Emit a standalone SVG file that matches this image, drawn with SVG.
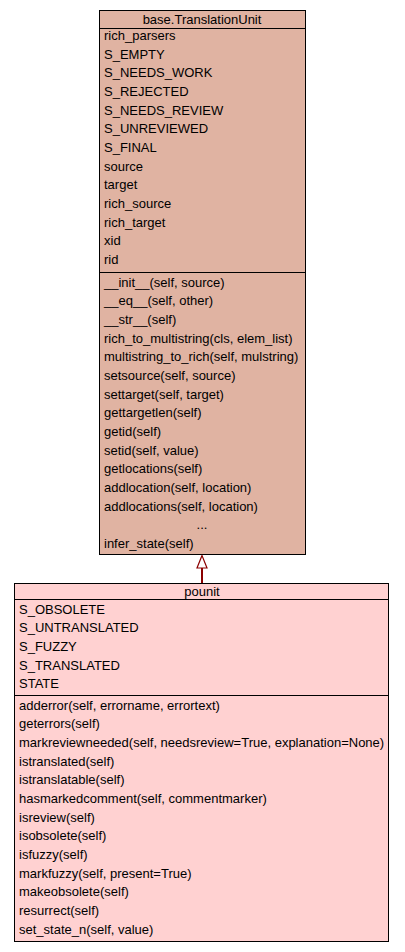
<svg xmlns="http://www.w3.org/2000/svg" width="405" height="952" viewBox="0 0 405 952">
<style>
text{font-family:"Liberation Sans",Arial,sans-serif;font-size:13px;fill:#000}
.c{text-anchor:middle}
.box{stroke:#000;stroke-width:1}
.base{fill:#e0b3a2}
.po{fill:#ffd1d1}
.ln{stroke:#000;stroke-width:1}
</style>
<rect width="405" height="952" fill="#fff"/>
<g id="connectors">
<line x1="202" y1="583" x2="202" y2="568" stroke="#8b0000" stroke-width="2"/>
<polygon points="202,555.5 197,568 207,568" fill="#fff" stroke="#8b0000" stroke-width="1.2"/>
</g>
<g id="base.TranslationUnit">
<rect class="box base" x="99.5" y="10.5" width="206" height="544"/>
<line class="ln" x1="99.5" y1="28.5" x2="305.5" y2="28.5"/>
<line class="ln" x1="99.5" y1="272.5" x2="305.5" y2="272.5"/>
<text class="c" x="202" y="23.5">base.TranslationUnit</text>
<text x="104" y="40">rich_parsers</text>
<text x="104" y="58.7">S_EMPTY</text>
<text x="104" y="77.3">S_NEEDS_WORK</text>
<text x="104" y="96">S_REJECTED</text>
<text x="104" y="114.7">S_NEEDS_REVIEW</text>
<text x="104" y="133.3">S_UNREVIEWED</text>
<text x="104" y="152">S_FINAL</text>
<text x="104" y="170.7">source</text>
<text x="104" y="189.3">target</text>
<text x="104" y="208">rich_source</text>
<text x="104" y="226.7">rich_target</text>
<text x="104" y="245.3">xid</text>
<text x="104" y="264">rid</text>
<text x="104" y="286.5">__init__(self, source)</text>
<text x="104" y="305.2">__eq__(self, other)</text>
<text x="104" y="323.8">__str__(self)</text>
<text x="104" y="342.5">rich_to_multistring(cls, elem_list)</text>
<text x="104" y="361.2">multistring_to_rich(self, mulstring)</text>
<text x="104" y="379.8">setsource(self, source)</text>
<text x="104" y="398.5">settarget(self, target)</text>
<text x="104" y="417.2">gettargetlen(self)</text>
<text x="104" y="435.8">getid(self)</text>
<text x="104" y="454.5">setid(self, value)</text>
<text x="104" y="473.2">getlocations(self)</text>
<text x="104" y="491.8">addlocation(self, location)</text>
<text x="104" y="510.5">addlocations(self, location)</text>
<text class="c" x="202" y="529.2">...</text>
<text x="104" y="547.8">infer_state(self)</text>
</g>
<g id="pounit">
<rect class="box po" x="14.5" y="583.5" width="374" height="358"/>
<line class="ln" x1="14.5" y1="599.5" x2="388.5" y2="599.5"/>
<line class="ln" x1="14.5" y1="695.5" x2="388.5" y2="695.5"/>
<text class="c" x="202" y="595.5">pounit</text>
<text x="19" y="613.5">S_OBSOLETE</text>
<text x="19" y="632.2">S_UNTRANSLATED</text>
<text x="19" y="650.8">S_FUZZY</text>
<text x="19" y="669.5">S_TRANSLATED</text>
<text x="19" y="688.2">STATE</text>
<text x="19" y="709.5">adderror(self, errorname, errortext)</text>
<text x="19" y="728.2">geterrors(self)</text>
<text x="19" y="746.8">markreviewneeded(self, needsreview=True, explanation=None)</text>
<text x="19" y="765.5">istranslated(self)</text>
<text x="19" y="784.2">istranslatable(self)</text>
<text x="19" y="802.8">hasmarkedcomment(self, commentmarker)</text>
<text x="19" y="821.5">isreview(self)</text>
<text x="19" y="840.2">isobsolete(self)</text>
<text x="19" y="858.8">isfuzzy(self)</text>
<text x="19" y="877.5">markfuzzy(self, present=True)</text>
<text x="19" y="896.2">makeobsolete(self)</text>
<text x="19" y="914.8">resurrect(self)</text>
<text x="19" y="933.5">set_state_n(self, value)</text>
</g>
</svg>
